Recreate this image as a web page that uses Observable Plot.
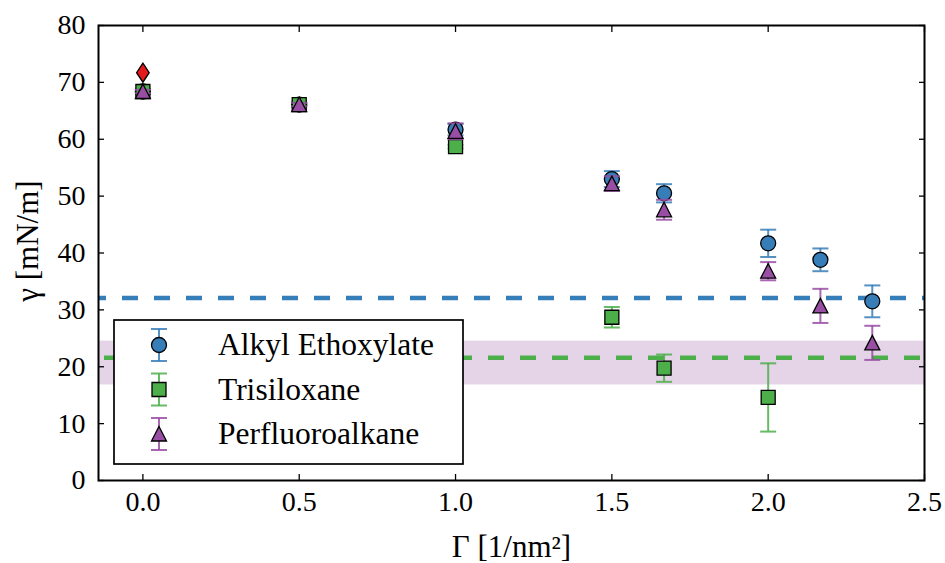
<!DOCTYPE html>
<html><head><meta charset="utf-8">
<script src="https://cdn.jsdelivr.net/npm/d3@7"></script>
<script src="https://cdn.jsdelivr.net/npm/@observablehq/plot@0.6"></script>
<style>
body{margin:0;background:#fff;}
#chart{position:relative;width:945px;height:563px;}
#chart svg{display:block;}
#chart svg text{font-family:"Liberation Serif","DejaVu Serif",serif;}
</style></head><body><div id="chart"></div>
<script>
// ---- data ----
const surfaceX = [0, 0.5, 1.0, 1.5, 1.667, 2.0, 2.167, 2.333];
const alkylY   = [68.4, 66.1, 61.7, 53.0, 50.5, 41.7, 38.8, 31.5];
const alkylErr = [0.3, 0.3, 1.0, 1.4, 1.6, 2.4, 2.0, 2.8];
const trisX    = [0, 0.5, 1.0, 1.5, 1.667, 2.0];
const trisY    = [68.4, 66.1, 58.7, 28.7, 19.75, 14.6];
const trisErr  = [0.3, 0.3, 0.3, 1.8, 2.4, 6.0];
const perfY    = [68.4, 66.1, 61.4, 52.2, 47.6, 36.8, 30.7, 24.2];
const perfErr  = [0.3, 0.3, 1.4, 1.3, 1.75, 1.6, 3.0, 3.0];
const waterX = [0];
const waterY = [71.7];
const alkylRef = [32.1];
const trisRef = [21.6];
const perfBand = [{lo: 16.8, hi: 24.5}];
const seriesNames = ["Alkyl Ethoxylate", "Trisiloxane", "Perfluoroalkane"];
const xTicks = [0, 0.5, 1.0, 1.5, 2.0, 2.5];
const yTicks = [0, 10, 20, 30, 40, 50, 60, 70, 80];

// ---- styles ----
const BLUE = "#377eb8", GREEN = "#4daf4a", PURPLE = "#984ea3", RED = "#e41a1c";
const symCircle = {draw(c){ c.moveTo(7.5,0); c.arc(0,0,7.5,0,2*Math.PI); c.closePath(); }};
const symSquare = {draw(c){ c.rect(-7,-7,14,14); }};
const symTriangle = {draw(c){ c.moveTo(0,-7.5); c.lineTo(7.5,7); c.lineTo(-7.5,7); c.closePath(); }};
const symDiamond = {draw(c){ c.moveTo(0,-9.5); c.lineTo(6.3,0); c.lineTo(0,9.5); c.lineTo(-6.3,0); c.closePath(); }};
const symCap = {draw(c){ c.moveTo(-8,0); c.lineTo(8,0); }};

const rows = (xs, ys, es) => xs.map((x, i) => ({x, y: ys[i], e: es[i]}));
const series = [
  {name: seriesNames[0], color: BLUE, sym: symCircle, data: rows(surfaceX, alkylY, alkylErr)},
  {name: seriesNames[1], color: GREEN, sym: symSquare, data: rows(trisX, trisY, trisErr)},
  {name: seriesNames[2], color: PURPLE, sym: symTriangle, data: rows(surfaceX, perfY, perfErr)}
];

function seriesMarks(s) {
  return [
    Plot.ruleX(s.data, {x: "x", y1: d => d.y - d.e, y2: d => d.y + d.e, stroke: s.color, strokeWidth: 2, strokeOpacity: 0.85}),
    Plot.dot(s.data, {x: "x", y: d => d.y - d.e, symbol: symCap, r: 8, fill: "none", stroke: s.color, strokeWidth: 2, strokeOpacity: 0.85}),
    Plot.dot(s.data, {x: "x", y: d => d.y + d.e, symbol: symCap, r: 8, fill: "none", stroke: s.color, strokeWidth: 2, strokeOpacity: 0.85}),
    Plot.dot(s.data, {x: "x", y: "y", symbol: s.sym, r: 7.5, fill: s.color, stroke: "black", strokeWidth: 1.3})
  ];
}

const tickFont = {fontSize: 28, fill: "black"};
const chart = Plot.plot({
  width: 945, height: 563,
  marginLeft: 98, marginRight: 21, marginTop: 25, marginBottom: 83,
  style: {fontSize: "28px", background: "white", color: "black"},
  x: {domain: [-0.142, 2.5]},
  y: {domain: [0, 80]},
  marks: [
    Plot.rect(perfBand, {y1: "lo", y2: "hi", fill: PURPLE, fillOpacity: 0.25}),
    Plot.ruleY(alkylRef, {stroke: BLUE, strokeWidth: 4.5, strokeDasharray: "16,16", strokeDashoffset: 8}),
    Plot.ruleY(trisRef, {stroke: GREEN, strokeWidth: 4.5, strokeDasharray: "16,16", strokeDashoffset: 26}),
    Plot.axisY({ticks: yTicks, tickSize: 0, tickPadding: 13, label: null, ...tickFont}),
    Plot.axisX({ticks: xTicks, tickSize: 0, tickPadding: 11, label: null, tickFormat: d3.format(".1f"), ...tickFont}),
    Plot.axisY({ticks: yTicks, tickSize: -6, tickFormat: () => "", label: null, strokeWidth: 1.3}),
    Plot.axisY({anchor: "right", ticks: yTicks, tickSize: -6, tickFormat: () => "", label: null, strokeWidth: 1.3}),
    Plot.axisX({ticks: xTicks, tickSize: -6, tickFormat: () => "", label: null, strokeWidth: 1.3}),
    Plot.axisX({anchor: "top", ticks: xTicks, tickSize: -6, tickFormat: () => "", label: null, strokeWidth: 1.3}),
    ...series.flatMap(seriesMarks),
    Plot.dot(waterX.map((x, i) => ({x, y: waterY[i]})), {x: "x", y: "y", symbol: symDiamond, r: 8, fill: RED, stroke: "black", strokeWidth: 1.3}),
    Plot.frame({stroke: "black", strokeWidth: 2}),
    Plot.text(["γ [mN/m]"], {frameAnchor: "left", rotate: -90, textAnchor: "middle", lineAnchor: "middle", dx: -70, dy: -12, fontSize: 31, fill: "black"}),
    Plot.text(["Γ [1/nm²]"], {frameAnchor: "bottom", textAnchor: "middle", lineAnchor: "middle", dy: 67, fontSize: 31, fill: "black"})
  ]
});
const root = document.getElementById("chart");
root.appendChild(chart);

// ---- legend (overlay) ----
const leg = d3.create("svg").attr("width", 945).attr("height", 563)
  .style("position", "absolute").style("left", "0px").style("top", "0px");
leg.append("rect").attr("x", 114).attr("y", 320).attr("width", 349).attr("height", 144)
  .attr("fill", "white").attr("stroke", "black").attr("stroke-width", 1.7);
series.forEach((s, i) => {
  const cy = 345 + i * 44.5;
  const g = leg.append("g").attr("transform", `translate(159,${cy})`);
  g.append("line").attr("y1", -16).attr("y2", 16).attr("stroke", s.color).attr("stroke-width", 2).attr("stroke-opacity", 0.85);
  [-16, 16].forEach(o => g.append("line").attr("x1", -8).attr("x2", 8).attr("y1", o).attr("y2", o)
    .attr("stroke", s.color).attr("stroke-width", 2).attr("stroke-opacity", 0.85));
  const p = d3.path(); s.sym.draw(p);
  g.append("path").attr("d", p.toString()).attr("fill", s.color).attr("stroke", "black").attr("stroke-width", 1.3);
  leg.append("text").attr("x", 218).attr("y", cy + 10).style("font-size", "31.5px")
    .attr("fill", "black").text(s.name);
});
root.appendChild(leg.node());
</script></body></html>
